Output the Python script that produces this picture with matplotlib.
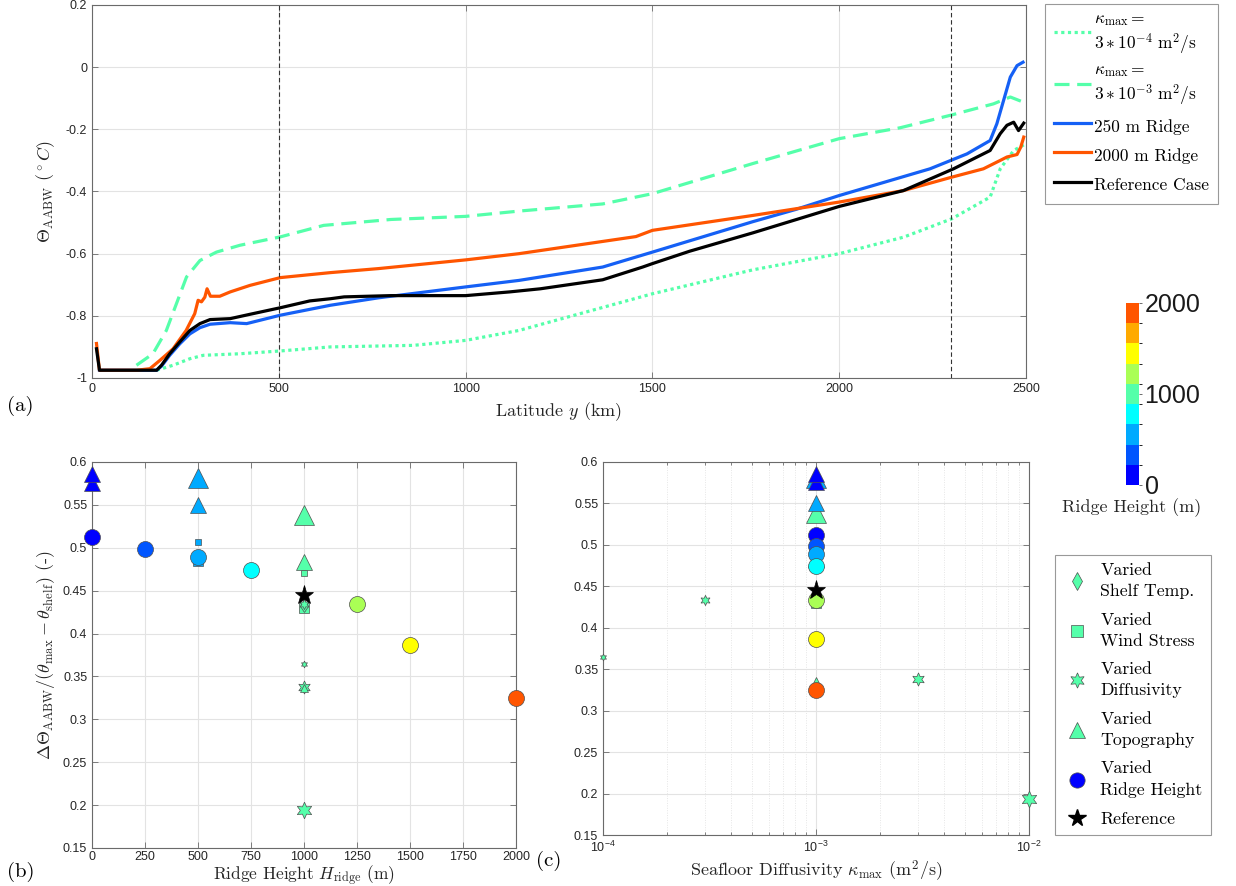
import numpy as np
import matplotlib
matplotlib.use("Agg")
import matplotlib.pyplot as plt
import matplotlib as mpl
from matplotlib.colors import ListedColormap, BoundaryNorm
from matplotlib.ticker import FuncFormatter, MultipleLocator, LogLocator, NullFormatter
from matplotlib.lines import Line2D
from matplotlib.font_manager import FontProperties

plt.rcParams['font.family'] = ['Liberation Sans', 'DejaVu Sans']
plt.rcParams['mathtext.fontset'] = 'cm'
plt.rcParams['axes.unicode_minus'] = False

# ---------------- data: panel (a) ----------------
ref_y = [12, 20, 60, 120, 173, 186, 208, 235, 262, 289, 316, 370, 423, 504, 583, 638, 675, 800,
         1000, 1118, 1200, 1367, 1474, 1500, 1600, 1769, 2000, 2172, 2306, 2404, 2431, 2449,
         2467, 2480, 2494]
ref_T = [-0.906, -0.975, -0.975, -0.975, -0.975, -0.959, -0.922, -0.884, -0.847, -0.825, -0.812,
         -0.809, -0.795, -0.774, -0.752, -0.745, -0.739, -0.735, -0.735, -0.723, -0.713, -0.684,
         -0.643, -0.632, -0.592, -0.533, -0.448, -0.397, -0.327, -0.268, -0.214, -0.187, -0.177,
         -0.204, -0.18]

r250_y = [20, 60, 120, 173, 186, 208, 235, 262, 289, 316, 370, 414, 504, 638, 767, 1000, 1143,
          1367, 1500, 1769, 1883, 2000, 2243, 2342, 2404, 2422, 2440, 2458, 2476, 2492]
r250_T = [-0.975, -0.975, -0.975, -0.975, -0.962, -0.927, -0.89, -0.858, -0.838, -0.827, -0.822,
          -0.825, -0.798, -0.766, -0.742, -0.707, -0.686, -0.643, -0.595, -0.497, -0.458, -0.413,
          -0.327, -0.279, -0.236, -0.182, -0.107, -0.032, 0.005, 0.016]

r2000_y = [12, 20, 60, 120, 155, 182, 217, 252, 275, 284, 293, 302, 308, 317, 342, 370, 423, 504,
           638, 767, 1000, 1143, 1456, 1500, 1769, 2000, 2172, 2301, 2386, 2431, 2449, 2476,
           2486, 2494]
r2000_T = [-0.889, -0.975, -0.975, -0.975, -0.97, -0.943, -0.906, -0.847, -0.793, -0.75, -0.755,
           -0.74, -0.713, -0.737, -0.737, -0.723, -0.702, -0.677, -0.661, -0.648, -0.62, -0.60,
           -0.545, -0.525, -0.477, -0.434, -0.397, -0.354, -0.327, -0.30, -0.289, -0.281,
           -0.257, -0.225]

k3e3_y = [119, 163, 199, 226, 253, 289, 333, 396, 504, 620, 800, 1000, 1143, 1367, 1500, 1769,
          2000, 2163, 2297, 2413, 2458, 2494]
k3e3_T = [-0.959, -0.922, -0.847, -0.761, -0.675, -0.622, -0.595, -0.573, -0.546, -0.509, -0.49,
          -0.48, -0.463, -0.44, -0.407, -0.31, -0.23, -0.195, -0.155, -0.118, -0.096, -0.113]

k3e4_y = [173, 217, 262, 298, 396, 504, 638, 860, 1000, 1143, 1500, 1769, 2000, 2172, 2301,
          2404, 2431, 2467, 2494]
k3e4_T = [-0.975, -0.959, -0.938, -0.927, -0.922, -0.913, -0.90, -0.895, -0.879, -0.847, -0.729,
          -0.652, -0.60, -0.547, -0.488, -0.418, -0.327, -0.268, -0.25]

vlines_km = [500, 2300]

# ---------------- data: panels (b), (c) ----------------
shelf_H = [1000];  shelf_k = [1e-3];  shelf_v = [0.432]
wind_H = [500, 500, 1000, 1000];  wind_k = [1e-3, 1e-3, 1e-3, 1e-3]
wind_v = [0.507, 0.485, 0.471, 0.430]
diff_H = [1000, 1000, 1000, 1000];  diff_k = [1e-4, 3e-4, 3e-3, 1e-2]
diff_v = [0.365, 0.434, 0.338, 0.194]
topo_H = [1000, 1000, 1000, 500, 500, 0, 0];  topo_k = [1e-3] * 7
topo_v = [0.336, 0.483, 0.538, 0.550, 0.581, 0.576, 0.586]
ridge_H = [0, 250, 500, 750, 1250, 1500, 2000];  ridge_k = [1e-3] * 7
ridge_v = [0.512, 0.499, 0.489, 0.474, 0.434, 0.387, 0.325]
ref_H = [1000];  ref_k = [1e-3];  ref_v = [0.445]

cb_colors = ['#0000ff', '#0055ff', '#00aaff', '#00ffff', '#55ffaa',
             '#aaff55', '#ffff00', '#ffaa00', '#ff5500']
cb_ticks = [0, 1000, 2000]

# ---------------- style ----------------
W, H = 1236, 886
fig = plt.figure(figsize=(W / 100, H / 100), dpi=100)

def ax_px(l, r, t, b):
    return fig.add_axes([l / W, 1 - b / H, (r - l) / W, (b - t) / H])

cmap = ListedColormap(cb_colors)
norm = BoundaryNorm(np.linspace(0, 2000, len(cb_colors) + 1), cmap.N)
seafoam = cb_colors[4]
serif = 'cmr10'
SPINE = '#6a6a6a'
TICKC = '#262626'
GRIDC = '#e3e3e3'

def style_ax(ax):
    for s in ax.spines.values():
        s.set_color(SPINE)
        s.set_linewidth(0.8)
    ax.tick_params(which='both', direction='in', top=True, right=True, colors=SPINE,
                   labelcolor=TICKC, labelsize=9, width=0.6)
    ax.tick_params(which='major', length=4)
    ax.tick_params(which='minor', length=2)
    ax.grid(True, which='major', color=GRIDC, lw=0.8)
    ax.set_axisbelow(True)

gfmt = FuncFormatter(lambda v, p: ('%g' % round(v, 6)))

# ---------------- panel (a) ----------------
axa = ax_px(92, 1026, 5, 378)
style_ax(axa)
lw = 2.3
la1, = axa.plot(k3e4_y, k3e4_T, color=seafoam, lw=lw, ls=(0, (1, 1.1)),
                label='$\\kappa_{\\max} =$\n$3*10^{-4}\\ \\mathrm{m}^2/\\mathrm{s}$')
la2, = axa.plot(k3e3_y, k3e3_T, color=seafoam, lw=lw, ls=(0, (4.7, 2.4)),
                label='$\\kappa_{\\max} =$\n$3*10^{-3}\\ \\mathrm{m}^2/\\mathrm{s}$')
la3, = axa.plot(r250_y, r250_T, color='#1560f5', lw=lw, label='250 m Ridge')
la4, = axa.plot(r2000_y, r2000_T, color='#ff5500', lw=lw, label='2000 m Ridge')
la5, = axa.plot(ref_y, ref_T, color='black', lw=lw, label='Reference Case')
for l in (la1, la2, la3, la4, la5):
    l.set_solid_joinstyle('round')
    l.set_dash_joinstyle('round')
for xv in vlines_km:
    axa.axvline(xv, color='#333333', lw=0.8, ls=(0, (4, 2.5)))
axa.set_xlim(0, 2500)
axa.set_ylim(-1, 0.2)
axa.xaxis.set_major_locator(MultipleLocator(500))
axa.yaxis.set_major_locator(MultipleLocator(0.2))
axa.xaxis.set_major_formatter(gfmt)
axa.yaxis.set_major_formatter(gfmt)
axa.set_xlabel('Latitude $y$ (km)', fontfamily=serif, fontsize=13, color=TICKC, labelpad=4)
axa.set_ylabel('$\\Theta_{\\rm AABW}$ $(^\\circ C)$', fontfamily=serif, fontsize=13,
               color=TICKC, labelpad=6)
leg1 = axa.legend(handles=[la1, la2, la3, la4, la5], loc='upper left',
                  bbox_to_anchor=(1045 / W, 1 - 4 / H), bbox_transform=fig.transFigure,
                  prop=FontProperties(family=serif, size=12.5), frameon=True, fancybox=False,
                  edgecolor='#808080', handlelength=2.15, handleheight=1.6, handletextpad=0.2,
                  borderpad=0.5, labelspacing=0.4, borderaxespad=0)
leg1.get_frame().set_linewidth(0.8)

# ---------------- panels (b) and (c) ----------------
axb = ax_px(92, 516, 462, 848)
axc = ax_px(603, 1029, 462, 835)
style_ax(axb)
style_ax(axc)
axb.tick_params(axis='x', which='major', pad=2)

EC = '#505050'
ELW = 0.5
wind_ms = [5, 7, 5, 7]
diff_ms = [5, 7.5, 9.5, 12]
topo_ms = [6, 12, 15, 12, 15, 11, 11]
ridge_ms = 11.5
ref_ms = 14
shelf_ms = 6

def draw_points(ax, xs_key):
    def pick(Hs, ks):
        return Hs if xs_key == 'H' else ks
    for x, v, h, ms in zip(pick(wind_H, wind_k), wind_v, wind_H, wind_ms):
        ax.plot([x], [v], 's', ms=ms, mfc=cmap(norm(h)), mec=EC, mew=ELW, zorder=3)
    for x, v, h in zip(pick(shelf_H, shelf_k), shelf_v, shelf_H):
        ax.plot([x], [v], 'd', ms=shelf_ms, mfc=cmap(norm(h)), mec=EC, mew=ELW, zorder=3)
    for x, v, h, ms in zip(pick(diff_H, diff_k), diff_v, diff_H, diff_ms):
        ax.plot([x], [v], marker=(6, 1, 0), ms=ms, mfc=cmap(norm(h)), mec=EC, mew=ELW,
                ls='none', zorder=4)
    for x, v, h, ms in zip(pick(topo_H, topo_k), topo_v, topo_H, topo_ms):
        ax.plot([x], [v], '^', ms=ms, mfc=cmap(norm(h)), mec=EC, mew=ELW, zorder=4)
    for x, v, h in zip(pick(ridge_H, ridge_k), ridge_v, ridge_H):
        ax.plot([x], [v], 'o', ms=ridge_ms, mfc=cmap(norm(h)), mec=EC, mew=ELW, zorder=5)
    for x, v in zip(pick(ref_H, ref_k), ref_v):
        ax.plot([x], [v], '*', ms=ref_ms, mfc='black', mec='black', mew=0.5, zorder=6)

draw_points(axb, 'H')
draw_points(axc, 'k')

for ax in (axb, axc):
    ax.set_ylim(0.15, 0.6)
    ax.yaxis.set_major_locator(MultipleLocator(0.05))
    ax.yaxis.set_major_formatter(gfmt)
    for a in ax.lines:
        a.set_clip_on(False)

axb.set_xlim(0, 2000)
axb.xaxis.set_major_locator(MultipleLocator(250))
axb.xaxis.set_major_formatter(gfmt)
axb.set_xlabel('Ridge Height $H_{\\rm ridge}$ (m)', fontfamily=serif, fontsize=12.5,
               color=TICKC, labelpad=0)
axb.set_ylabel('$\\Delta\\Theta_{\\rm AABW}/(\\theta_{\\max}-\\theta_{\\rm shelf})$ (-)',
               fontfamily=serif, fontsize=13, color=TICKC, labelpad=4)

axc.set_xscale('log')
axc.set_xlim(1e-4, 1e-2)
axc.xaxis.set_major_locator(LogLocator(base=10, numticks=10))
axc.xaxis.set_minor_locator(LogLocator(base=10, subs=np.arange(2, 10), numticks=20))
axc.xaxis.set_minor_formatter(NullFormatter())
axc.grid(True, which='minor', axis='x', color='#e6e6e6', lw=0.7, ls=(0, (1, 1.5)))
axc.set_xlabel('Seafloor Diffusivity $\\kappa_{\\max}$ (m$^2$/s)', fontfamily=serif,
               fontsize=13, color=TICKC, labelpad=3)

# legend for (b)/(c)
h_shelf = Line2D([], [], ls='none', marker='d', ms=9, mfc=seafoam, mec=EC, mew=ELW)
h_wind = Line2D([], [], ls='none', marker='s', ms=9, mfc=seafoam, mec=EC, mew=ELW)
h_diff = Line2D([], [], ls='none', marker=(6, 1, 0), ms=11, mfc=seafoam, mec=EC, mew=ELW)
h_topo = Line2D([], [], ls='none', marker='^', ms=12, mfc=seafoam, mec=EC, mew=ELW)
h_ridge = Line2D([], [], ls='none', marker='o', ms=11, mfc='#0000ff', mec=EC, mew=ELW)
h_ref = Line2D([], [], ls='none', marker='*', ms=13, mfc='black', mec='black')
leg2 = fig.legend(handles=[h_shelf, h_wind, h_diff, h_topo, h_ridge, h_ref],
                  labels=['Varied\nShelf Temp.', 'Varied\nWind Stress', 'Varied\nDiffusivity',
                          'Varied\nTopography', 'Varied\nRidge Height', 'Reference'],
                  loc='upper left', bbox_to_anchor=(1055 / W, 1 - 555 / H),
                  prop=FontProperties(family=serif, size=12.8), frameon=True, fancybox=False,
                  edgecolor='#808080', handlelength=1.6, handletextpad=0.5,
                  borderpad=0.45, labelspacing=0.75, borderaxespad=0)
for t in leg2.get_texts():
    t.set_linespacing(1.45)
leg2.get_frame().set_linewidth(0.8)

# colorbar
cax = ax_px(1126, 1139, 303, 485)
sm = mpl.cm.ScalarMappable(norm=norm, cmap=cmap)
cb = fig.colorbar(sm, cax=cax, ticks=cb_ticks)
cb.outline.set_visible(False)
cax.tick_params(labelsize=18, length=2, width=0.6, colors='#555555', labelcolor='#1a1a1a', pad=2)
cax.set_yticklabels([str(t) for t in cb_ticks])
fig.text(1132 / W, 1 - 508 / H, 'Ridge Height (m)', fontfamily=serif, fontsize=13,
         ha='center', va='center', color=TICKC)

# panel labels
fig.text(7 / W, 1 - 406 / H, '(a)', fontfamily=serif, fontsize=15, ha='left', va='center')
fig.text(7 / W, 1 - 872 / H, '(b)', fontfamily=serif, fontsize=15, ha='left', va='center')
fig.text(536 / W, 1 - 861 / H, '(c)', fontfamily=serif, fontsize=15, ha='left', va='center')

fig.savefig('out.png', dpi=100)
